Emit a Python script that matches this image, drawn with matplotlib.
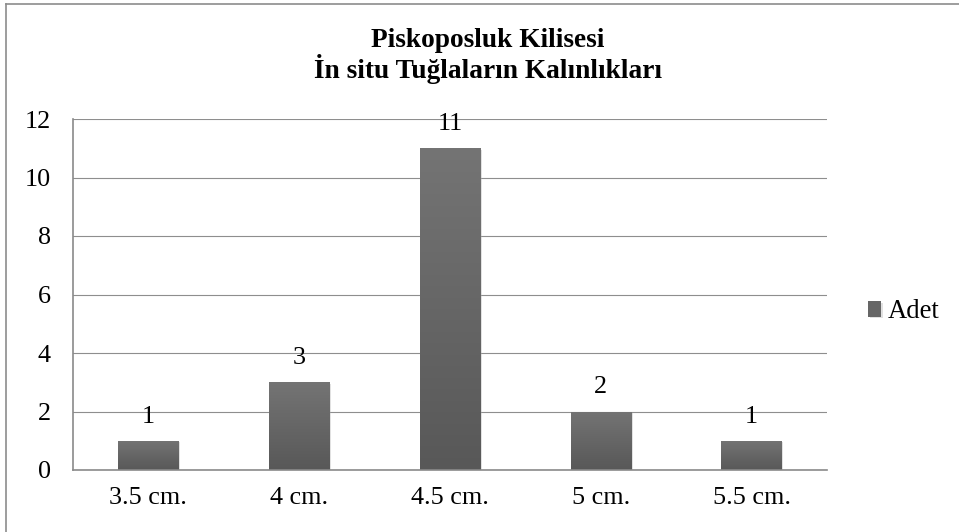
import matplotlib
matplotlib.use("Agg")
import matplotlib.pyplot as plt
import numpy as np
from matplotlib.lines import Line2D
from matplotlib import patheffects as pe
from matplotlib.colors import LinearSegmentedColormap

categories = ["3.5 cm.", "4 cm.", "4.5 cm.", "5 cm.", "5.5 cm."]
values = [1, 3, 11, 2, 1]
series_name = "Adet"
title_lines = ["Piskoposluk Kilisesi", "İn situ Tuğlaların Kalınlıkları"]
yticks = [0, 2, 4, 6, 8, 10, 12]

plt.rcParams['font.family'] = ['Liberation Serif', 'DejaVu Serif']

W, H = 959, 532
fig = plt.figure(figsize=(W / 100, H / 100), dpi=100)
fig.patch.set_facecolor('white')

ax = fig.add_axes([73 / W, 1 - 470 / H, (827 - 73) / W, (470 - 119) / H])
x = np.arange(len(categories))
bars = ax.bar(x, values, width=0.40, color='#666666', zorder=3, label=series_name,
              path_effects=[pe.SimplePatchShadow(offset=(1.2, -1.2), shadow_rgbFace='#aaaaaa', alpha=0.35),
                            pe.Normal()])

# vertical gradient fill on each bar
grad = np.linspace(0, 1, 256).reshape(-1, 1)
cmap = LinearSegmentedColormap.from_list('g', ['#585858', '#747474'])
for b in bars:
    x0, y0 = b.get_x(), b.get_y()
    w, h = b.get_width(), b.get_height()
    im = ax.imshow(grad, extent=(x0, x0 + w, y0, y0 + h), origin='lower', cmap=cmap,
                   aspect='auto', zorder=4, interpolation='bilinear')
    im.set_clip_path(b)

ax.set_xlim(-0.5, len(categories) - 0.5)
ax.set_ylim(0, 12)
ax.set_yticks(yticks)
ax.set_xticks(x)
ax.set_xticklabels(categories)
ax.tick_params(axis='both', length=0, labelsize=18.8, colors='black')
ax.tick_params(axis='y', pad=16)
ax.tick_params(axis='x', pad=12)
ax.grid(axis='y', color='#8e8e8e', linewidth=0.8, zorder=0)
ax.set_axisbelow(True)
for s in ['top', 'right']:
    ax.spines[s].set_visible(False)
for s in ['left', 'bottom']:
    ax.spines[s].set_color('#8a8a8a')
    ax.spines[s].set_linewidth(1.2)
    ax.spines[s].set_zorder(5)

for xi, v in zip(x, values):
    ax.annotate(str(v), (xi, v), xytext=(0, 13), textcoords='offset points',
                ha='center', va='baseline', fontsize=18.8, color='black', zorder=6)

fig.text(488 / W, 1 - 56 / H, title_lines[0] + "\n" + title_lines[1], ha='center', va='center',
         fontsize=19.7, fontweight='bold', linespacing=1.02)

leg = fig.legend(handles=[bars], labels=[series_name], loc='center left',
                 bbox_to_anchor=(868 / W, 1 - 312 / H), frameon=False, fontsize=19.2,
                 handlelength=0.5, handleheight=0.5, handletextpad=0.25,
                 borderpad=0, borderaxespad=0)

# chart border (top and left visible)
fig.add_artist(Line2D([6 / W, 1.01], [1 - 4 / H, 1 - 4 / H], transform=fig.transFigure,
                      color='#8c8c8c', linewidth=1.2))
fig.add_artist(Line2D([6 / W, 6 / W], [-0.01, 1 - 4 / H], transform=fig.transFigure,
                      color='#8c8c8c', linewidth=1.2))

fig.savefig('out.png', dpi=100, facecolor='white')
